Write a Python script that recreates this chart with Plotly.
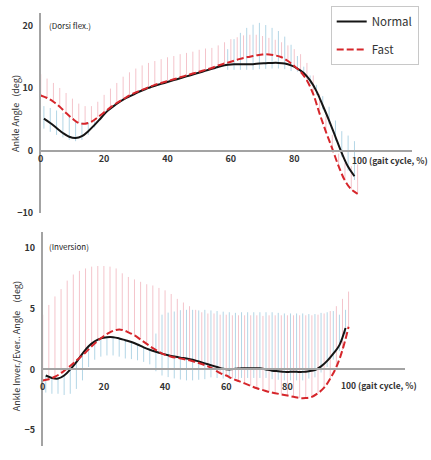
import plotly.graph_objects as go

W, H = 431, 460

# ---------------- data ----------------
x_fast = list(range(0, 101, 2))        # Fast sampled at even %
x_norm = list(range(1, 100, 2))        # Normal sampled at odd %

# Top: ankle dorsi/plantar flexion (deg)
top_fast_mean = [8.8, 8.4, 7.8, 7.0, 6.0, 5.1, 4.4, 4.3, 4.6, 5.3,
                 6.1, 6.9, 7.6, 8.2, 8.8, 9.3, 9.7, 10.1, 10.5, 10.8,
                 11.1, 11.4, 11.7, 12.0, 12.3, 12.6, 12.9, 13.2, 13.6, 13.9,
                 14.2, 14.5, 14.8, 15.0, 15.2, 15.35, 15.35, 15.2, 14.9, 14.3,
                 13.5, 12.6, 11.2, 9.0, 5.9, 3.0, 0.3, -2.5, -4.8, -6.2, -6.9]
top_fast_sd = [3.4, 3.1, 3.0, 3.0, 3.2, 3.2, 3.1, 2.8, 2.5, 2.5,
               2.8, 3.0, 3.2, 3.6, 3.7, 3.8, 3.9, 3.9, 3.8, 3.8,
               3.8, 3.7, 3.7, 3.6, 3.5, 3.5, 3.4, 3.2, 3.2, 3.4,
               3.6, 3.6, 3.6, 3.5, 3.3, 2.95, 2.65, 2.5, 2.4, 2.5,
               2.7, 2.8, 2.8, 3.0, 3.1, 2.5, 2.2, 2.0, 2.8, 3.7, 4.7]
top_norm_mean = [5.1, 4.4, 3.6, 2.8, 2.2, 2.0, 2.3, 3.1, 4.1, 5.2,
                 6.3, 7.1, 7.8, 8.4, 8.9, 9.4, 9.8, 10.2, 10.5, 10.8,
                 11.1, 11.4, 11.7, 12.0, 12.3, 12.6, 12.9, 13.2, 13.5, 13.7,
                 13.8, 13.8, 13.8, 13.8, 13.9, 13.95, 14.0, 14.0, 13.9, 13.6,
                 13.1, 12.4, 11.2, 9.5, 7.2, 4.8, 2.2, -0.4, -2.6, -4.1]
top_norm_sd_up = [2.0, 2.4, 2.8, 3.2, 3.2, 2.8, 2.2, 1.4, 0.6, 0,
                  0, 0, 0, 0, 0, 0, 0, 0, 0, 0,
                  0, 0, 0, 0, 0, 0, 0, 0, 0, 2.5,
                  4.0, 5.0, 5.8, 6.3, 6.5, 6.1, 5.6, 5.1, 4.3, 3.3,
                  2.0, 1.0, 0.8, 1.0, 1.5, 2.2, 2.6, 3.5, 5.0, 5.6]
top_norm_sd_dn = [1.6, 1.4, 1.1, 0.7, 0.5, 0.5, 0.6, 0.6, 0.4, 0,
                  0, 0, 0, 0, 0, 0, 0, 0, 0, 0,
                  0, 0, 0, 0, 0, 0, 0, 0, 0, 0.8,
                  0.9, 0.9, 0.9, 0.9, 0.9, 0.9, 0.9, 0.9, 0.9, 0.9,
                  0.5, 0.6, 0.6, 0.6, 0.6, 0.6, 0.6, 0.6, 0.6, 0.6]

# Bottom: ankle inversion/eversion (deg)
bot_fast_mean = [-0.9, -0.8, -0.6, -0.3, 0.1, 0.5, 0.95, 1.4, 1.9, 2.35,
                 2.75, 3.05, 3.25, 3.25, 3.05, 2.8, 2.45, 2.1, 1.75, 1.45,
                 1.2, 1.05, 0.95, 0.85, 0.75, 0.6, 0.45, 0.25, 0.0, -0.3,
                 -0.5, -0.75, -0.95, -1.15, -1.35, -1.55, -1.7, -1.85, -1.95, -2.05,
                 -2.15, -2.25, -2.35, -2.35, -2.25, -1.95, -1.5, -0.75, 0.2, 1.6, 3.5]
bot_fast_sd = [5.4, 6.1, 6.6, 6.9, 7.2, 7.3, 7.15, 6.9, 6.55, 6.15,
               5.75, 5.4, 5.05, 4.65, 4.55, 4.6, 4.75, 4.9, 5.15, 5.25,
               5.3, 5.15, 4.85, 4.65, 4.45, 4.3, 4.25, 4.35, 4.6, 4.8,
               5.0, 5.2, 5.4, 5.6, 5.8, 6.0, 6.1, 6.3, 6.4, 6.5,
               6.6, 6.7, 6.8, 6.8, 6.7, 6.45, 6.1, 5.55, 5.0, 4.2, 2.9]
bot_norm_mean = [-0.5, -0.7, -0.75, -0.5, 0.0, 0.6, 1.3, 1.9, 2.3, 2.55,
                 2.65, 2.65, 2.55, 2.4, 2.25, 2.05, 1.82, 1.62, 1.45, 1.3,
                 1.17, 1.06, 0.97, 0.9, 0.8, 0.65, 0.5, 0.35, 0.2, 0.05,
                 0.0, 0.05, 0.1, 0.1, 0.1, 0.1, 0.0, -0.1, -0.15, -0.2,
                 -0.2, -0.2, -0.2, -0.15, -0.05, 0.25, 0.7, 1.3, 2.0, 3.4]
bot_norm_sd_up = [0, 0, 0, 0, 0, 0, 0, 0, 0, 0,
                  0, 0, 0, 0, 0, 0, 0, 0, 1.5, 3.2,
                  3.5, 3.7, 3.9, 4.0, 4.1, 4.2, 4.4, 4.5, 4.6, 4.7,
                  4.7, 4.6, 4.6, 4.6, 4.6, 4.6, 4.7, 4.8, 4.8, 4.8,
                  4.8, 4.8, 4.8, 4.7, 4.6, 4.4, 4.0, 3.5, 2.5, 1.5]
bot_norm_sd_dn = [1.4, 1.3, 1.25, 1.6, 2.0, 2.2, 2.2, 1.7, 1.5, 1.5,
                  1.5, 1.5, 1.5, 1.5, 1.4, 1.3, 1.2, 1.2, 1.6, 1.8,
                  1.8, 1.8, 1.8, 1.8, 1.7, 1.5, 1.3, 1.0, 0.9, 0.8,
                  0.8, 0.8, 0.8, 0.8, 0.8, 0.8, 0.7, 0.7, 0.7, 0.7,
                  0.7, 0.7, 0.7, 0.6, 0.6, 0.5, 0.5, 0.5, 0.5, 0.5]

top_yticks = [-10, 0, 10, 20]
bot_yticks = [-5, 0, 5, 10]
x_ticks = [0, 20, 40, 60, 80]
x_last_label = "100 (gait cycle, %)"
series_names = ["Normal", "Fast"]

# ---------------- style / layout ----------------
BLACK = "#151515"
RED = "#d6262b"
PINK = "#f4c4cb"
BLUE = "#b3d6e6"
AXIS = "#a3a3a3"
FONT = "Noto Sans CJK KR"


def segs(xs, mean, up, dn):
    X, Y = [], []
    for x, m, u, d in zip(xs, mean, up, dn):
        if u == 0 and d == 0:
            continue
        X += [x, x, None]
        Y += [m - d, m + u, None]
    return X, Y


def px2py(p):
    return 1 - p / H


fig = go.Figure()

panels = [
    dict(xa="x", ya="y", fm=top_fast_mean, fs=top_fast_sd, nm=top_norm_mean,
         nu=top_norm_sd_up, nd=top_norm_sd_dn, legend=True),
    dict(xa="x2", ya="y2", fm=bot_fast_mean, fs=bot_fast_sd, nm=bot_norm_mean,
         nu=bot_norm_sd_up, nd=bot_norm_sd_dn, legend=False),
]

for p in panels:
    bx, by = segs(x_norm, p["nm"], p["nu"], p["nd"])
    fig.add_trace(go.Scatter(x=bx, y=by, mode="lines", xaxis=p["xa"], yaxis=p["ya"],
                             line=dict(color=BLUE, width=1), showlegend=False,
                             hoverinfo="skip"))
    fx, fy = segs(x_fast, p["fm"], p["fs"], [0] * len(p["fs"]))
    fig.add_trace(go.Scatter(x=fx, y=fy, mode="lines", xaxis=p["xa"], yaxis=p["ya"],
                             line=dict(color=PINK, width=1), showlegend=False,
                             hoverinfo="skip"))
    fig.add_trace(go.Scatter(x=x_norm, y=p["nm"], mode="lines", name=series_names[0],
                             xaxis=p["xa"], yaxis=p["ya"], legendgroup="n",
                             line=dict(color=BLACK, width=2, shape="spline"),
                             showlegend=p["legend"]))
    fig.add_trace(go.Scatter(x=x_fast, y=p["fm"], mode="lines", name=series_names[1],
                             xaxis=p["xa"], yaxis=p["ya"], legendgroup="f",
                             line=dict(color=RED, width=2, dash="7px,3px", shape="spline"),
                             showlegend=p["legend"]))

# geometry (pixels)
top_dom_y = [px2py(216), px2py(13)]
bot_dom_y = [px2py(452), px2py(235)]
top_yr = [-10, 22]
bot_yr = [-6.3, 11.3]
top_xr = [0, 117.2]
bot_xr = [0, 118.5]


def zero_pos(dom, yr):
    return dom[0] + (0 - yr[0]) / (yr[1] - yr[0]) * (dom[1] - dom[0])


tickfont = dict(family=FONT, size=9, color="#333333", weight="bold")
lastfont = dict(family=FONT, size=8.5, color="#333333", weight="bold")

fig.update_layout(
    width=W, height=H,
    margin=dict(l=0, r=0, t=0, b=0),
    paper_bgcolor="white", plot_bgcolor="rgba(0,0,0,0)",
    showlegend=True,
    legend=dict(x=330 / W, y=px2py(6), xanchor="left", yanchor="top",
                bordercolor="#c8c8c8", borderwidth=1, bgcolor="white",
                font=dict(family=FONT, size=11.5, color="#333333"),
                tracegroupgap=9, itemwidth=30),
    xaxis=dict(domain=[38 / W, 412 / W], range=top_xr, anchor="free",
               position=zero_pos(top_dom_y, top_yr),
               showline=True, linecolor=AXIS, linewidth=1.5, showgrid=False,
               zeroline=False, tickvals=x_ticks, ticks="", tickfont=tickfont),
    yaxis=dict(domain=top_dom_y, range=top_yr, anchor="x",
               showline=True, linecolor=AXIS, linewidth=1.5, showgrid=False,
               zeroline=False, tickvals=top_yticks, ticks="", tickfont=tickfont,
               ticklabelstandoff=4),
    xaxis2=dict(domain=[40 / W, 405 / W], range=bot_xr, anchor="free",
                position=zero_pos(bot_dom_y, bot_yr),
                showline=True, linecolor=AXIS, linewidth=1.5, showgrid=False,
                zeroline=False, tickvals=x_ticks, ticks="", tickfont=tickfont,
                ticklabelstandoff=9),
    yaxis2=dict(domain=bot_dom_y, range=bot_yr, anchor="x2",
                showline=True, linecolor=AXIS, linewidth=1.5, showgrid=False,
                zeroline=False, tickvals=bot_yticks, ticks="", tickfont=tickfont,
                ticklabelstandoff=4),
)

ann_font = dict(family=FONT, size=8, color="#222222")
title_font = dict(family=FONT, size=9, color="#333333")
annotations = [
    dict(text="(Dorsi flex.)", xref="paper", yref="paper", x=44 / W, y=px2py(26),
         xanchor="left", yanchor="middle", showarrow=False, font=ann_font),
    dict(text="(Inversion)", xref="paper", yref="paper", x=44 / W, y=px2py(250),
         xanchor="left", yanchor="middle", showarrow=False, font=ann_font),
    dict(text="Ankle Angle   (deg)", xref="paper", yref="paper", x=12 / W,
         y=(top_dom_y[0] + top_dom_y[1]) / 2, textangle=-90, showarrow=False,
         xanchor="center", yanchor="middle", font=title_font),
    dict(text="Ankle Inver./Ever.. Angle    (deg)", xref="paper", yref="paper", x=14 / W,
         y=px2py(351), textangle=-90, showarrow=False,
         xanchor="center", yanchor="middle", font=title_font),
    dict(text=x_last_label, xref="x", yref="y", x=100, y=0, xanchor="left",
         yanchor="top", xshift=-8, yshift=-1, showarrow=False, font=lastfont),
    dict(text=x_last_label, xref="x2", yref="y2", x=100, y=0, xanchor="left",
         yanchor="top", xshift=-10, yshift=-8, showarrow=False, font=lastfont),
]
fig.update_layout(annotations=annotations)

fig.write_html("out.html", config={"displayModeBar": False},
               post_script="document.body.style.margin='0';document.body.style.overflow='hidden';")
